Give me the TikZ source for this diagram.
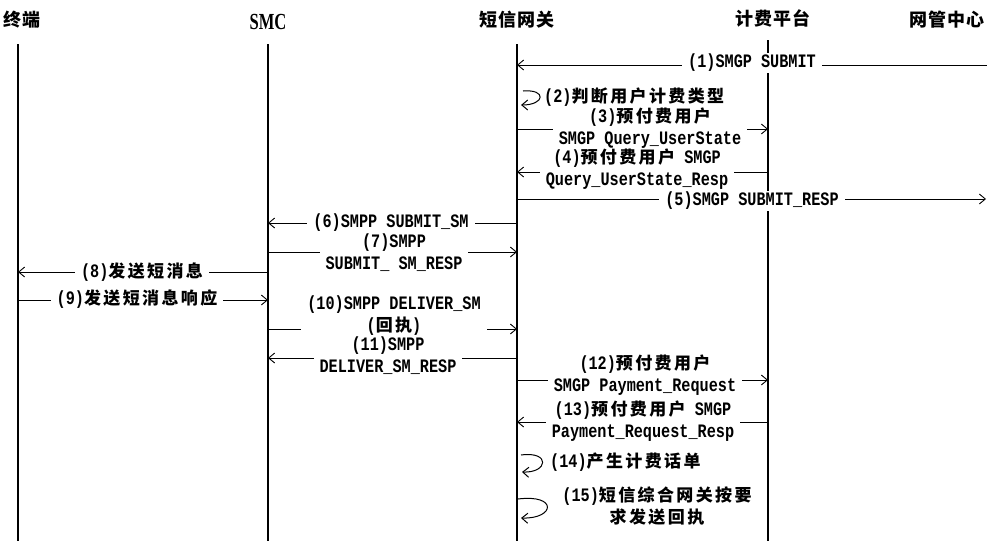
\documentclass[tikz,border=0pt]{standalone}
\usepackage{fontspec}
\setmainfont{Liberation Mono}[FakeStretch=0.8]
\newfontfamily\zhfont{Noto Sans CJK SC}[LetterSpace=14]
\newfontfamily\zhhfont{Noto Sans CJK SC}[LetterSpace=6]
\newfontfamily\serifn{Liberation Serif}[FakeStretch=0.72]
\newcommand\zh[1]{{\zhfont\bfseries\fontsize{17}{22}\selectfont #1}}
\newcommand\zhH[1]{{\zhhfont\bfseries\fontsize{18}{22}\selectfont #1}}
\usetikzlibrary{arrows.meta}
\begin{document}
\begin{tikzpicture}[x=1pt,y=-1pt,
  life/.style={line width=1.4pt},
  msg/.style={line width=0.9pt,-{Straight Barb[length=6pt,width=10pt]}},
  selfloop/.style={line width=1pt,-{Straight Barb[length=6pt,width=10pt]}},
  lbl/.style={fill=white,inner xsep=6pt,inner ysep=1pt,align=center,
    font=\fontsize{19}{22}\selectfont\bfseries},
  hdr/.style={inner sep=1pt,font=\fontsize{18}{22}\selectfont\bfseries}]
\useasboundingbox (0,0) rectangle (987,541);
% headers
\node[hdr,anchor=west] (h1) at (2,20) {\zhH{终端}};
\node[hdr] (h2) at (268,22) {\serifn\fontsize{23}{24}\selectfont SMC};
\node[hdr] (h3) at (517,20) {\zhH{短信网关}};
\node[hdr] (h4) at (773,18) {\zhH{计费平台}};
\node[hdr,anchor=east] (h5) at (986,20) {\zhH{网管中心}};
% lifelines
\coordinate (t1) at (18,44);
\coordinate (t2) at (268,44);
\coordinate (t3) at (517,44);
\coordinate (t4) at (768,40);
\coordinate (bot) at (0,541);
\draw[life] (t1) -- (t1 |- bot);
\draw[life] (t2) -- (t2 |- bot);
\draw[life] (t3) -- (t3 |- bot);
\draw[life] (t4) -- (t4 |- bot);
% message levels
\coordinate (m1) at (987,65);
\coordinate (y3) at (0,129);
\coordinate (y4) at (0,172);
\coordinate (m5) at (986,199);
\coordinate (y6) at (0,223);
\coordinate (y7) at (0,252);
\coordinate (y8) at (0,272);
\coordinate (y9) at (0,300);
\coordinate (y10) at (0,329);
\coordinate (y11) at (0,358);
\coordinate (y12) at (0,380);
\coordinate (y13) at (0,422);
% arrows
\draw[msg] (m1) -- (t3 |- m1);
\draw[msg] (t3 |- y3) -- (t4 |- y3);
\draw[msg] (t4 |- y4) -- (t3 |- y4);
\draw[msg] (t3 |- m5) -- (m5);
\draw[msg] (t3 |- y6) -- (t2 |- y6);
\draw[msg] (t2 |- y7) -- (t3 |- y7);
\draw[msg] (t2 |- y8) -- (t1 |- y8);
\draw[msg] (t1 |- y9) -- (t2 |- y9);
\draw[msg] (t2 |- y10) -- (t3 |- y10);
\draw[msg] (t3 |- y11) -- (t2 |- y11);
\draw[msg] (t3 |- y12) -- (t4 |- y12);
\draw[msg] (t4 |- y13) -- (t3 |- y13);
% self loops
\coordinate (l2a) at (523,91);
\coordinate (l2b) at (521,105);
\draw[selfloop] (l2a) .. controls +(24,-2) and +(24,0) .. (l2b);
\coordinate (l14a) at (521,455);
\coordinate (l14b) at (522,472);
\draw[selfloop] (l14a) .. controls +(30,-4) and +(26,1) .. (l14b);
\coordinate (l15a) at (518,499);
\coordinate (l15b) at (521,518);
\draw[selfloop] (l15a) .. controls +(40,-5) and +(34,1) .. (l15b);
% labels
\node[lbl] (n1) at (752,63) {(1)SMGP SUBMIT};
\node[lbl,fill=none,anchor=west] (n2) at (538,97) {(2)\zh{判断用户计费类型}};
\node[lbl] (n3) at (650,128) {(3)\zh{预付费用户}\\SMGP Query\_UserState};
\node[lbl] (n4) at (637,169) {(4)\zh{预付费用户} SMGP\\Query\_UserState\_Resp};
\node[lbl] (n5) at (752,201) {(5)SMGP SUBMIT\_RESP};
\node[lbl] (n6) at (391,223) {(6)SMPP SUBMIT\_SM};
\node[lbl] (n7) at (394,253) {(7)SMPP\\SUBMIT\_ SM\_RESP};
\node[lbl] (n8) at (142,272) {(8)\zh{发送短消息}};
\node[lbl] (n9) at (137,299) {(9)\zh{发送短消息响应}};
\node[lbl] (n10) at (394,316) {(10)SMPP DELIVER\_SM\\(\zh{回执})};
\node[lbl] (n11) at (388,356) {(11)SMPP\\DELIVER\_SM\_RESP};
\node[lbl] (n12) at (645,375) {(12)\zh{预付费用户}\\SMGP Payment\_Request};
\node[lbl] (n13) at (643,421) {(13)\zh{预付费用户} SMGP\\Payment\_Request\_Resp};
\node[lbl,fill=none,anchor=west] (n14) at (544,462) {(14)\zh{产生计费话单}};
\node[lbl,fill=none] (n15) at (657,506) {(15)\zh{短信综合网关按要}\\\zh{求发送回执}};
\end{tikzpicture}
\end{document}
